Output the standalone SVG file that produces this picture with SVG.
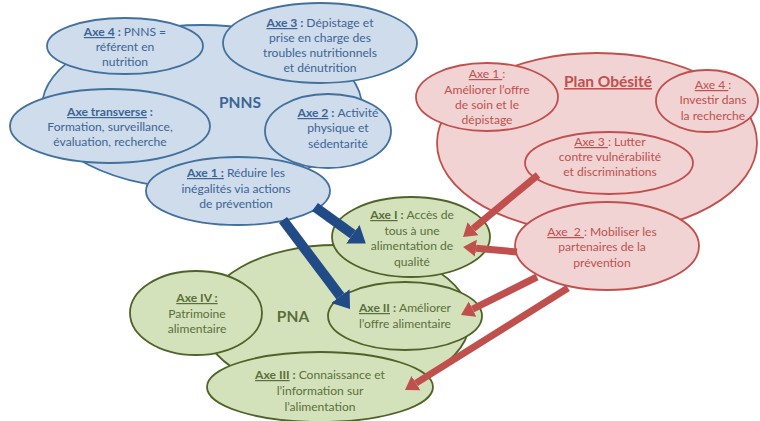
<svg xmlns="http://www.w3.org/2000/svg" width="760" height="421" viewBox="0 0 760 421">
<style>
text{font-family:Lato,"Liberation Sans",sans-serif;font-size:12.1px;text-anchor:middle}
.b{fill:#cfdcec;stroke:#41719c;stroke-width:1.8}
.r{fill:#f2d3d4;stroke:#c0504d;stroke-width:1.8}
.g{fill:#d3e2bb;stroke:#4f6228;stroke-width:1.8}
.bt{fill:#3b6596}
.rt{fill:#c0504d}
.gt{fill:#5b6f3c}
.k{font-weight:bold}
.u{text-decoration:underline}
.big{font-size:15.5px;font-weight:bold}
.ba{stroke:#214b86;stroke-width:10;fill:none}
.ra{stroke:#c0504d;stroke-width:7;fill:none}
</style>
<defs>
<marker id="hb" markerUnits="userSpaceOnUse" markerWidth="17" markerHeight="24" refX="0" refY="11.5" orient="auto" viewBox="0 0 17 23"><path d="M0,0 L16,11.5 L0,23 z" fill="#214b86"/></marker>
<marker id="hr" markerUnits="userSpaceOnUse" markerWidth="14" markerHeight="18" refX="0" refY="8.5" orient="auto" viewBox="0 0 14 17"><path d="M0,0 L13,8.5 L0,17 z" fill="#c0504d"/></marker>
</defs>
<rect width="760" height="421" fill="#ffffff"/>

<g id="pnns">
<ellipse class="b" cx="202" cy="107" rx="160" ry="82"/>
<text class="bt big" x="240" y="108">PNNS</text>
</g>
<g id="pnns-axe4">
<ellipse class="b" cx="125" cy="46" rx="78" ry="28"/>
<text class="bt" x="125" y="36"><tspan class="k u">Axe 4</tspan><tspan class="k"> : </tspan>PNNS =</text>
<text class="bt" x="125" y="51">référent en</text>
<text class="bt" x="125" y="66">nutrition</text>
</g>
<g id="pnns-axe3">
<ellipse class="b" cx="320" cy="43" rx="97" ry="40"/>
<text class="bt" x="320" y="27"><tspan class="k u">Axe 3</tspan><tspan class="k"> : </tspan>Dépistage et</text>
<text class="bt" x="320" y="42">prise en charge des</text>
<text class="bt" x="320" y="57">troubles nutritionnels</text>
<text class="bt" x="320" y="72">et dénutrition</text>
</g>
<g id="pnns-transverse">
<ellipse class="b" cx="110" cy="126" rx="100" ry="37"/>
<text class="bt" x="110" y="116"><tspan class="k u">Axe transverse</tspan><tspan class="k"> :</tspan></text>
<text class="bt" x="110" y="131">Formation, surveillance,</text>
<text class="bt" x="110" y="146">évaluation, recherche</text>
</g>
<g id="pnns-axe2">
<ellipse class="b" cx="328" cy="131" rx="63" ry="37"/>
<text class="bt" x="338" y="117"><tspan class="k u">Axe 2</tspan><tspan class="k"> : </tspan>Activité</text>
<text class="bt" x="338" y="132">physique et</text>
<text class="bt" x="338" y="148">sédentarité</text>
</g>
<g id="pnns-axe1">
<ellipse class="b" cx="238" cy="191" rx="92" ry="34"/>
<text class="bt" x="236" y="177"><tspan class="k u">Axe 1 :</tspan> Réduire les</text>
<text class="bt" x="236" y="193">inégalités via actions</text>
<text class="bt" x="236" y="208">de prévention</text>
</g>

<g id="obesite">
<ellipse class="r" cx="597" cy="143" rx="160" ry="90"/>
<text class="rt big u" x="608" y="87">Plan Obésité</text>
</g>
<g id="ob-axe1">
<ellipse class="r" cx="487" cy="97" rx="71" ry="34"/>
<text class="rt" x="487" y="78"><tspan class="u">Axe 1 </tspan>:</text>
<text class="rt" x="487" y="94">Améliorer l’offre</text>
<text class="rt" x="487" y="109">de soin et le</text>
<text class="rt" x="487" y="124">dépistage</text>
</g>
<g id="ob-axe4">
<ellipse class="r" cx="707" cy="101" rx="51" ry="31"/>
<text class="rt" x="713" y="89"><tspan class="u">Axe 4 </tspan>:</text>
<text class="rt" x="713" y="104">Investir dans</text>
<text class="rt" x="713" y="120">la recherche</text>
</g>
<g id="ob-axe3">
<ellipse class="r" cx="609" cy="163" rx="84" ry="31"/>
<text class="rt" x="610" y="146"><tspan class="u">Axe 3 </tspan>: Lutter</text>
<text class="rt" x="610" y="161">contre vulnérabilité</text>
<text class="rt" x="610" y="176">et discriminations</text>
</g>
<g id="ob-axe2">
<ellipse class="r" cx="607" cy="246" rx="92" ry="44"/>
<text class="rt" x="602" y="236" xml:space="preserve"><tspan class="u">Axe  2 </tspan>: Mobiliser les</text>
<text class="rt" x="602" y="251">partenaires de la</text>
<text class="rt" x="602" y="267">prévention</text>
</g>

<g id="pna">
<ellipse class="g" cx="336" cy="320" rx="134" ry="75"/>
<text class="gt big" x="293" y="322">PNA</text>
</g>
<g id="pna-axe1">
<ellipse class="g" cx="411" cy="237" rx="79" ry="40"/>
<text class="gt" x="412" y="219"><tspan class="k u">Axe I</tspan><tspan class="k"> : </tspan>Accès de</text>
<text class="gt" x="412" y="235">tous à une</text>
<text class="gt" x="412" y="250">alimentation de</text>
<text class="gt" x="412" y="266">qualité</text>
</g>
<g id="pna-axe4">
<ellipse class="g" cx="196" cy="313" rx="66" ry="42"/>
<text class="gt" x="197" y="302"><tspan class="k u">Axe IV :</tspan></text>
<text class="gt" x="197" y="318">Patrimoine</text>
<text class="gt" x="197" y="333">alimentaire</text>
</g>
<g id="pna-axe2">
<ellipse class="g" cx="405" cy="316" rx="77" ry="34"/>
<text class="gt" x="405" y="312"><tspan class="k u">Axe II</tspan><tspan class="k"> : </tspan>Améliorer</text>
<text class="gt" x="405" y="328">l’offre alimentaire</text>
</g>
<g id="pna-axe3">
<ellipse class="g" cx="320" cy="387" rx="113" ry="35"/>
<text class="gt" x="320" y="379"><tspan class="k u">Axe III</tspan><tspan class="k"> : </tspan>Connaissance et</text>
<text class="gt" x="320" y="395">l’information sur</text>
<text class="gt" x="320" y="411">l’alimentation</text>
</g>

<g id="connectors">
<line class="ba" x1="315" y1="207" x2="352.8" y2="234.2" marker-end="url(#hb)"/>
<line class="ba" x1="283" y1="220" x2="340.4" y2="296.2" marker-end="url(#hb)"/>
<line class="ra" x1="538" y1="175" x2="473" y2="228.7" marker-end="url(#hr)"/>
<line class="ra" x1="517" y1="252" x2="476" y2="248.2" marker-end="url(#hr)"/>
<line class="ra" x1="537" y1="277" x2="472.6" y2="309.2" marker-end="url(#hr)"/>
<line class="ra" x1="568" y1="288" x2="416" y2="383.1" marker-end="url(#hr)"/>
</g>
</svg>
